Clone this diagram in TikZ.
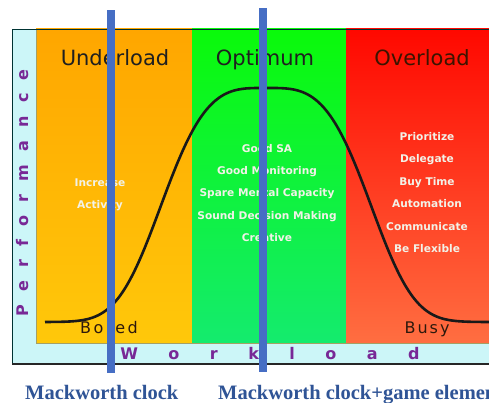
\documentclass[tikz,border=0pt]{standalone}
\usepackage{fontspec}
\setmainfont{Liberation Serif}
\setsansfont{DejaVu Sans}
\newfontfamily\hdrfont{DejaVu Sans}
\newfontfamily\boldsans{DejaVu Sans Bold}
\makeatletter
\newcommand\spreadtext[2]{\def\sp@amt{#2}\sp@first#1\@nil}
\def\sp@first#1{#1\sp@loop}
\def\sp@loop#1{\ifx#1\@nil\else\kern\sp@amt#1\expandafter\sp@loop\fi}
\makeatother
\definecolor{orgtop}{RGB}{255,166,0}
\definecolor{orgbot}{RGB}{255,200,10}
\definecolor{grntop}{RGB}{10,250,10}
\definecolor{grnbot}{RGB}{20,235,110}
\definecolor{redtop}{RGB}{255,8,0}
\definecolor{redbot}{RGB}{255,110,65}
\definecolor{cyanbg}{RGB}{204,246,248}
\definecolor{barblue}{RGB}{70,110,196}
\definecolor{lblblue}{RGB}{47,84,150}
\definecolor{axpurple}{RGB}{120,40,150}
\definecolor{smalltext}{RGB}{242,242,232}
\definecolor{darkword}{RGB}{45,25,12}
\definecolor{overtext}{RGB}{60,20,0}
\tikzset{
  hdr/.style={font=\hdrfont\fontsize{21}{24}\selectfont, anchor=base, inner sep=0pt, text=black!88},
  small/.style={font=\boldsans\fontsize{10.6}{12}\selectfont, anchor=base, inner sep=0pt, text=smalltext},
  state/.style={font=\hdrfont\fontsize{16}{18}\selectfont, anchor=base, inner sep=0pt, text=darkword},
  axis/.style={font=\boldsans\fontsize{16}{18}\selectfont, inner sep=0pt, text=axpurple},
  bar/.style={fill=barblue, draw=none},
  curve/.style={line width=2.6pt, black!90},
  lbl/.style={font=\bfseries\fontsize{20.5}{24}\selectfont, anchor=base west, inner sep=0pt, text=lblblue}
}
\begin{document}
\begin{tikzpicture}[x=1pt,y=-1pt]
\useasboundingbox (0,0) rectangle (489,403);
\clip (0,0) rectangle (489,403);
% frame background
\fill[white] (0,0) rectangle (489,403);
\fill[cyanbg] (12,29) rectangle (489,364);
% zones
\shade[top color=orgtop, bottom color=orgbot] (36,29) rectangle (192,343);
\shade[top color=grntop, bottom color=grnbot] (192,29) rectangle (346,343);
\shade[top color=redtop, bottom color=redbot] (346,29) rectangle (489,343);
\draw[line width=0.6pt, black!35!olive!60] (36,29) -- (36,343) -- (489,343);
\draw[line width=0.8pt, black!60!teal] (489,29) -- (12,29) -- (12,364);
\draw[line width=1.6pt, black!85] (12,364) -- (489,364);
% curve
\draw[curve] plot[domain=45:489, samples=160, smooth]
  (\x, {322-234*exp(-0.652*exp(3.47*ln(abs(\x-266)/103+0.0001)))});
% headers
\node[hdr] (under) at (115,66) {Underload};
\node[hdr] (optim) at (265,66) {Optimum};
\node[hdr, text=overtext] (over) at (422,66) {Overload};
% zone texts
\node[small] (inc) at (100,186.5) {Increase};
\node[small] (act) at (100,208.5) {Activity};
\foreach \t [count=\i from 0] in {Good SA, Good Monitoring, Spare Mental Capacity, Sound Decision Making, Creative}
  \node[small] (opt\i) at (267,{152.5+22.2*\i}) {\t};
\foreach \t [count=\i from 0] in {Prioritize, Delegate, Buy Time, Automation, Communicate, Be Flexible}
  \node[small] (ovl\i) at (427,{140.5+22.4*\i}) {\t};
\node[state] (bored) at (109,333.5) {\spreadtext{Bored}{2.6pt}};
\node[state] (busy) at (427,333.5) {\spreadtext{Busy}{2pt}};
% axes
\node[axis, rotate=90] (perf) at (23,193) {\spreadtext{Performance}{13.2pt}};
\node[axis] (work) at (270,354) {\spreadtext{Workload}{30.5pt}};
% bars
\fill[bar] (107,10) rectangle (115,373);
\fill[bar] (259,8) rectangle (267,372);
% labels
\node[lbl] (l1) at (25,399) {Mackworth clock};
\node[lbl] (l2) at (218,399) {Mackworth clock+game elements};
\end{tikzpicture}
\end{document}
